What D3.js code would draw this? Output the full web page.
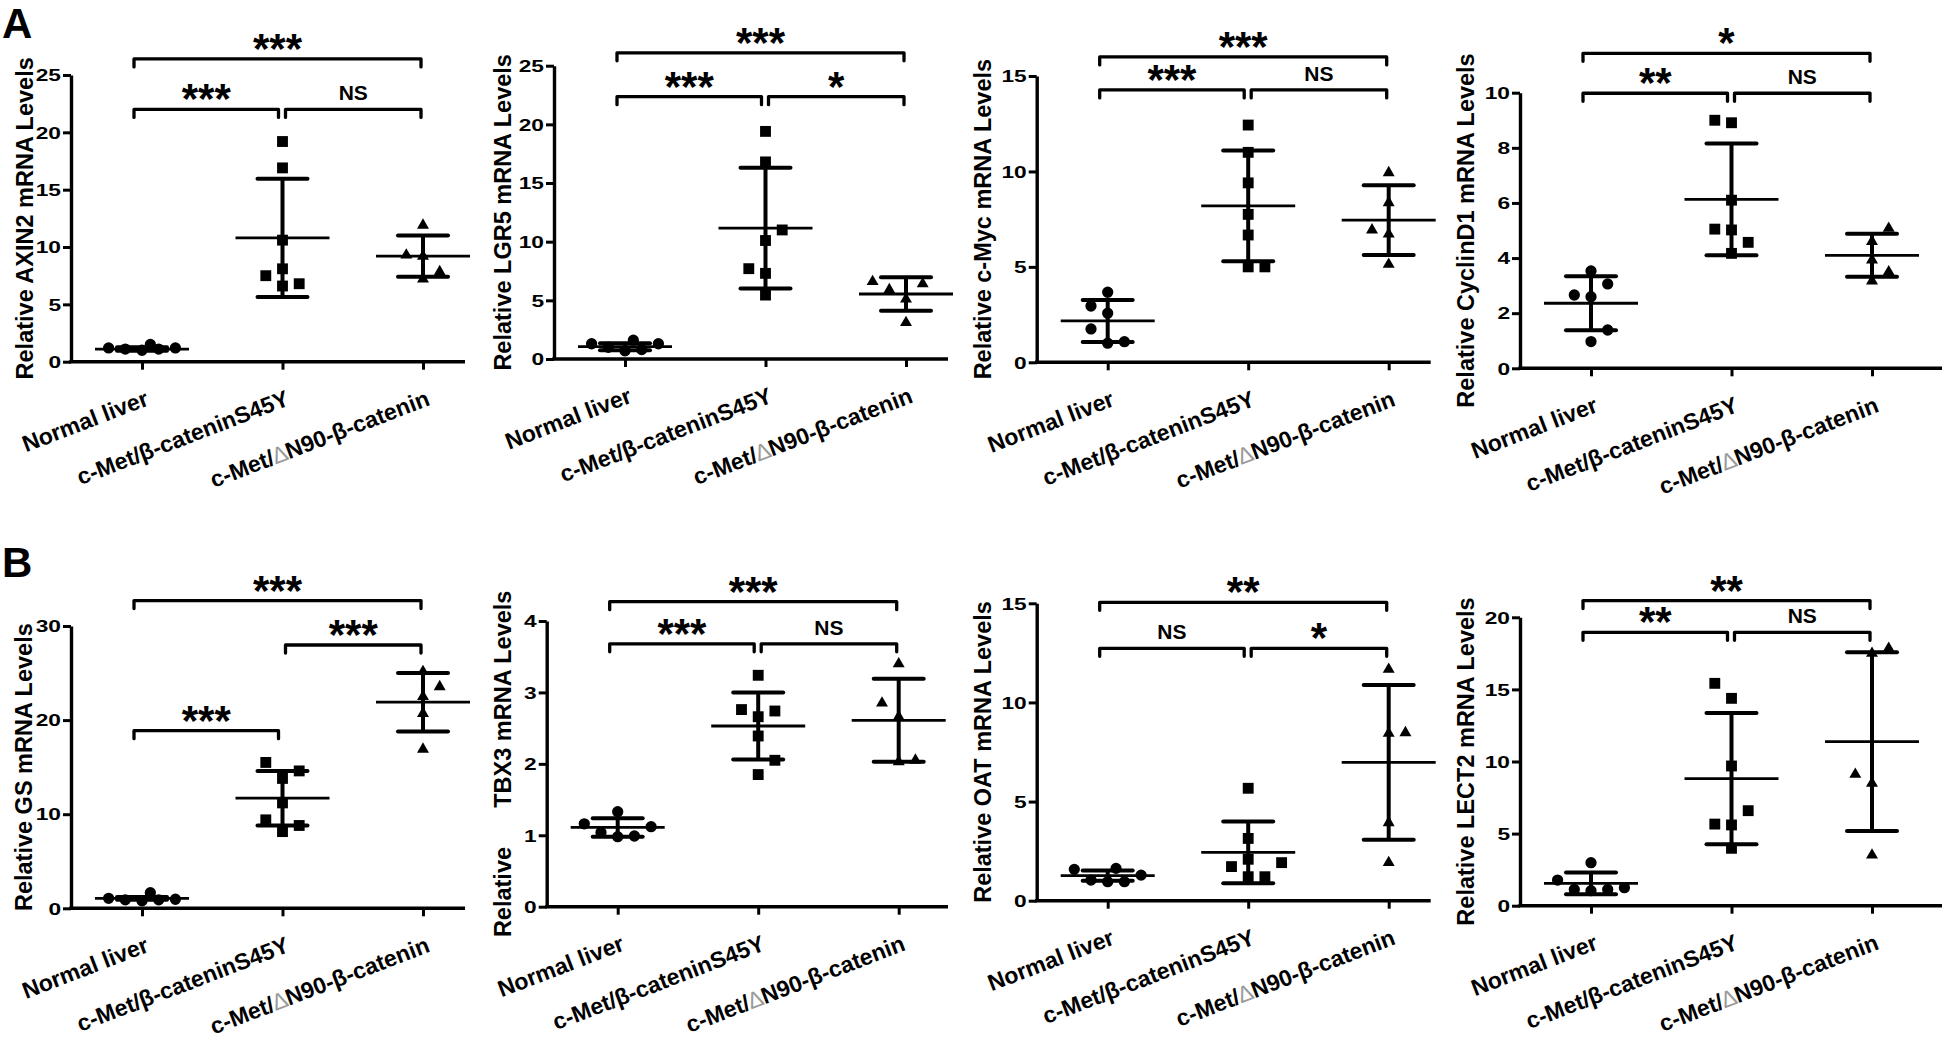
<!DOCTYPE html>
<html><head><meta charset="utf-8">
<script src="https://cdn.jsdelivr.net/npm/d3@7"></script>
<style>
body{margin:0;background:#fff}
svg{display:block}
text{font-family:"Liberation Sans",Arial,Helvetica,sans-serif;font-weight:bold;fill:#000}
</style>
</head><body>
<svg id="chart" width="1946" height="1048"></svg>
<script>
// ---------------- DATA ----------------
const categories = ["Normal liver", "c-Met/β-cateninS45Y", "c-Met/∆N90-β-catenin"];
const genes = ["AXIN2", "LGR5", "c-Myc", "CyclinD1", "GS", "TBX3", "OAT", "LECT2"];
const yTitles = [
  "Relative AXIN2 mRNA Levels", "Relative LGR5 mRNA Levels", "Relative c-Myc mRNA Levels",
  "Relative CyclinD1 mRNA Levels", "Relative GS mRNA Levels", "Relative      TBX3 mRNA Levels",
  "Relative OAT mRNA Levels", "Relative LECT2 mRNA Levels"];
const yMax = [25, 25, 15, 10, 30, 4, 15, 20];
const yTickStep = [5, 5, 5, 2, 10, 1, 5, 5];
const panelLetters = ["A", "B"];

// individual values per group: [Normal, S45Y, dN90]
const axin2 = [[1.2, 1.1, 1.0, 1.5, 1.1, 1.2], [19.2, 16.9, 10.6, 8.1, 7.5, 6.6, 6.8], [11.9, 9.3, 9.2, 7.85, 7.2]];
const lgr5 = [[1.3, 1.0, 0.7, 1.6, 0.8, 1.3], [19.4, 16.8, 11.0, 10.1, 7.7, 7.3, 5.45], [6.6, 5.9, 6.4, 5.1, 3.1]];
const cmyc = [[3.67, 2.95, 2.57, 1.75, 1.0, 1.08], [12.43, 11.0, 9.4, 7.75, 6.67, 5.0, 5.0], [9.93, 8.36, 6.93, 6.72, 5.13]];
const cyclinD1 = [[3.53, 3.06, 2.66, 2.6, 1.39, 0.97], [9.0, 8.91, 6.1, 5.05, 5.02, 4.57, 4.17], [5.08, 4.6, 3.93, 3.5, 3.17]];
const gs = [[1.06, 0.9, 0.8, 1.66, 0.9, 0.96], [15.5, 14.6, 13.8, 11.2, 9.4, 8.8, 8.15], [25.15, 23.55, 22.5, 20.7, 16.9]];
const tbx3 = [[1.16, 1.33, 1.04, 0.98, 0.99, 1.12], [3.24, 2.76, 2.74, 2.66, 2.39, 2.05, 1.85], [3.4, 2.85, 2.66, 2.03, 2.05]];
const oat = [[1.58, 1.04, 0.96, 1.63, 0.96, 1.29], [5.67, 3.14, 1.72, 2.09, 1.92, 1.21, 1.21], [11.67, 8.44, 8.47, 3.93, 1.92]];
const lect2 = [[2.98, 1.78, 1.13, 1.04, 1.13, 1.25], [15.42, 14.38, 9.69, 6.59, 5.66, 5.6, 3.98], [17.85, 17.5, 9.11, 8.49, 3.51]];
const geneValues = [axin2, lgr5, cmyc, cyclinD1, gs, tbx3, oat, lect2];

// scatter column (dot-plot slot) of each point, same order as the values
const axin2Slots = [[-2, -1, 0, 0.5, 1, 2], [0, 0, 0, 0, -1, 0, 1], [0, -1, 0, 1, 0]];
const lgr5Slots = [[-2, -1, 0, 0.5, 1, 2], [0, 0, 1, 0, -1, 0, 0], [-2, -1, 1, 0, 0]];
const cmycSlots = [[0, -1, 0, -1, 0, 1], [0, 0, 0, 0, 0, 0, 1], [0, 0, -1, 0, 0]];
const cyclinD1Slots = [[0, 1, -1, 0, 1, 0], [-1, 0, 0, -1, 0, 1, 0], [1, 0, 0, 1, 0]];
const gsSlots = [[-2, -1, 0, 0.5, 1, 2], [-1, 1, 0, 0, -1, 1, 0], [0, 1, 0, 0, 0]];
const tbx3Slots = [[-2, 0, -1, 0, 1, 2], [0, -1, 1, 0, 0, 1, 0], [0, -1, 0, 0, 1]];
const oatSlots = [[-2, -1, 0, 0.5, 1, 2], [0, 0, -1, 0, 2, 0, 1], [0, 0, 1, 0, 0]];
const lect2Slots = [[0, -2, -1, 0, 1, 2], [-1, 0, 0, 1, -1, 0, 0], [1, 0, -1, 0, 0]];
const geneSlots = [axin2Slots, lgr5Slots, cmycSlots, cyclinD1Slots, gsSlots, tbx3Slots, oatSlots, lect2Slots];

// mean and SD per group
const groupMeans = [[1.1, 10.8, 9.2], [1.05, 11.16, 5.54], [2.17, 8.2, 7.45], [2.36, 6.13, 4.1],
                    [1.06, 11.7, 21.9], [1.11, 2.53, 2.61], [1.26, 2.44, 6.98], [1.55, 8.81, 11.38]];
const groupSDs = [[0.15, 5.15, 1.8], [0.3, 5.15, 1.43], [1.1, 2.9, 1.83], [0.98, 2.03, 0.78],
                  [0.15, 2.9, 3.1], [0.13, 0.47, 0.58], [0.26, 1.56, 3.9], [0.76, 4.55, 6.2]];

// significance brackets: [fromGroup, toGroup, level (y value), label]
const geneSignif = [
  [[0, 2, 26.4, "***"], [0, 1, 22.0, "***"], [1, 2, 22.0, "NS"]],
  [[0, 2, 26.1, "***"], [0, 1, 22.36, "***"], [1, 2, 22.36, "*"]],
  [[0, 2, 16.0, "***"], [0, 1, 14.27, "***"], [1, 2, 14.27, "NS"]],
  [[0, 2, 11.43, "*"], [0, 1, 9.98, "**"], [1, 2, 9.98, "NS"]],
  [[0, 2, 32.7, "***"], [1, 2, 27.98, "***"], [0, 1, 18.88, "***"]],
  [[0, 2, 4.27, "***"], [0, 1, 3.68, "***"], [1, 2, 3.68, "NS"]],
  [[0, 2, 15.05, "**"], [0, 1, 12.73, "NS"], [1, 2, 12.73, "*"]],
  [[0, 2, 21.16, "**"], [0, 1, 18.96, "**"], [1, 2, 18.96, "NS"]]
];

// ---------------- LAYOUT ----------------
const layout = [
  {ax: 71,     y0: 361.7, yTop: 75,    xEnd: 465,    tOff: -46},
  {ax: 554,    y0: 359,   yTop: 65.7,  xEnd: 948,    tOff: -51},
  {ax: 1036.7, y0: 362.3, yTop: 76,    xEnd: 1430.7, tOff: -53.5},
  {ax: 1520,   y0: 368.3, yTop: 92.7,  xEnd: 1942,   tOff: -54},
  {ax: 71,     y0: 908.3, yTop: 626,   xEnd: 465,    tOff: -47},
  {ax: 546.7,  y0: 906.7, yTop: 621,   xEnd: 948,    tOff: -44},
  {ax: 1036.7, y0: 900.7, yTop: 603.3, xEnd: 1430.7, tOff: -53.7},
  {ax: 1520,   y0: 905.7, yTop: 617.3, xEnd: 1942,   tOff: -54}
];
const letterPos = [{x: 2, y: 38}, {x: 2, y: 577}];
const slotGap = 16.7, meanHalf = 47, capHalf = 25;
const shapes = [d3.symbolCircle, d3.symbolSquare, d3.symbolTriangle];
const shapeSizes = [100, 118, 62];

const svg = d3.select("#chart");

panelLetters.forEach((l, i) => {
  svg.append("text").attr("x", letterPos[i].x).attr("y", letterPos[i].y)
    .attr("font-size", 42).text(l);
});

genes.forEach((gene, k) => {
  const L = layout[k];
  const g = svg.append("g").attr("class", "panel-" + gene);
  const y = d3.scaleLinear().domain([0, yMax[k]]).range([L.y0, L.yTop]);
  const x = d3.scalePoint().domain(categories).range([L.ax + 71, L.ax + 352]);

  // y axis
  const yAxis = d3.axisLeft(y)
    .tickValues(d3.range(0, yMax[k] + 1e-9, yTickStep[k]))
    .tickSize(8).tickSizeOuter(0).tickFormat(d3.format("d"));
  const ya = g.append("g").attr("transform", `translate(${L.ax},0)`).call(yAxis);
  ya.select(".domain").attr("stroke-width", 3.4).attr("stroke", "#000");
  ya.selectAll(".tick line").attr("stroke-width", 3).attr("stroke", "#000");
  ya.selectAll(".tick text")
    .attr("font-size", 16).attr("font-family", null).attr("fill", "#000")
    .attr("x", -10 / 1.42).attr("dy", "0.36em")
    .attr("transform", "scale(1.42,1)");

  // x axis
  const xAxis = d3.axisBottom(x).tickSize(8).tickSizeOuter(0).tickFormat("");
  const xa = g.append("g").attr("transform", `translate(0,${L.y0})`).call(xAxis);
  xa.select(".domain").remove();
  xa.selectAll(".tick line").attr("stroke-width", 3).attr("stroke", "#000");
  g.append("line").attr("x1", L.ax - 1.7).attr("x2", L.xEnd).attr("y1", L.y0).attr("y2", L.y0)
    .attr("stroke", "#000").attr("stroke-width", 3.4);

  // category labels
  categories.forEach(c => {
    const t = g.append("text")
      .attr("transform", `translate(${x(c) + 8},${L.y0 + 43}) rotate(-21)`)
      .attr("text-anchor", "end").attr("font-size", 23);
    if (c.includes("∆")) {
      const parts = c.split("∆");
      t.append("tspan").text(parts[0]);
      t.append("tspan").attr("fill", "#9a9a9a").attr("font-weight", "normal").text("∆");
      t.append("tspan").text(parts[1]);
    } else t.text(c);
  });

  // y title
  g.append("text")
    .attr("transform", `translate(${L.ax + L.tOff + 8},${(L.y0 + L.yTop) / 2}) rotate(-90)`)
    .attr("text-anchor", "middle").attr("font-size", 23.5)
    .style("white-space", "pre").text(yTitles[k]);

  // points
  geneValues[k].forEach((vals, gi) => {
    const cx = x(categories[gi]);
    g.selectAll(null).data(vals).enter().append("path")
      .attr("d", d3.symbol(shapes[gi], shapeSizes[gi]))
      .attr("transform", (v, i) => `translate(${cx + geneSlots[k][gi][i] * slotGap},${y(v)})`)
      .attr("fill", "#000");
    // mean & SD
    const m = groupMeans[k][gi], s = groupSDs[k][gi];
    g.append("line").attr("x1", cx - meanHalf).attr("x2", cx + meanHalf)
      .attr("y1", y(m)).attr("y2", y(m)).attr("stroke", "#000").attr("stroke-width", 2.8);
    g.append("line").attr("x1", cx).attr("x2", cx)
      .attr("y1", y(m + s)).attr("y2", y(m - s)).attr("stroke", "#000").attr("stroke-width", 4);
    [m + s, m - s].forEach(v => {
      g.append("line").attr("x1", cx - capHalf).attr("x2", cx + capHalf)
        .attr("y1", y(v)).attr("y2", y(v)).attr("stroke", "#000").attr("stroke-width", 4)
        .attr("stroke-linecap", "round");
    });
  });

  // significance brackets
  geneSignif[k].forEach(([a, b, lvl, lab]) => {
    const x1 = a === 1 ? x(categories[1]) + 3 : x(categories[a]) - 8;
    const x2 = b === 1 ? x(categories[1]) - 4 : x(categories[b]) - 2;
    const yl = y(lvl);
    g.append("path").attr("d", `M${x1},${yl + 8}V${yl}H${x2}V${yl + 8}`)
      .attr("fill", "none").attr("stroke", "#000").attr("stroke-width", 3.3)
      .attr("stroke-linejoin", "round").attr("stroke-linecap", "round");
    const isStar = lab.includes("*");
    g.append("text").attr("x", (x1 + x2) / 2).attr("y", isStar ? yl + 4 : yl - 9)
      .attr("text-anchor", "middle").attr("font-size", isStar ? 42 : 21).text(lab);
  });
});
</script>
</body></html>
